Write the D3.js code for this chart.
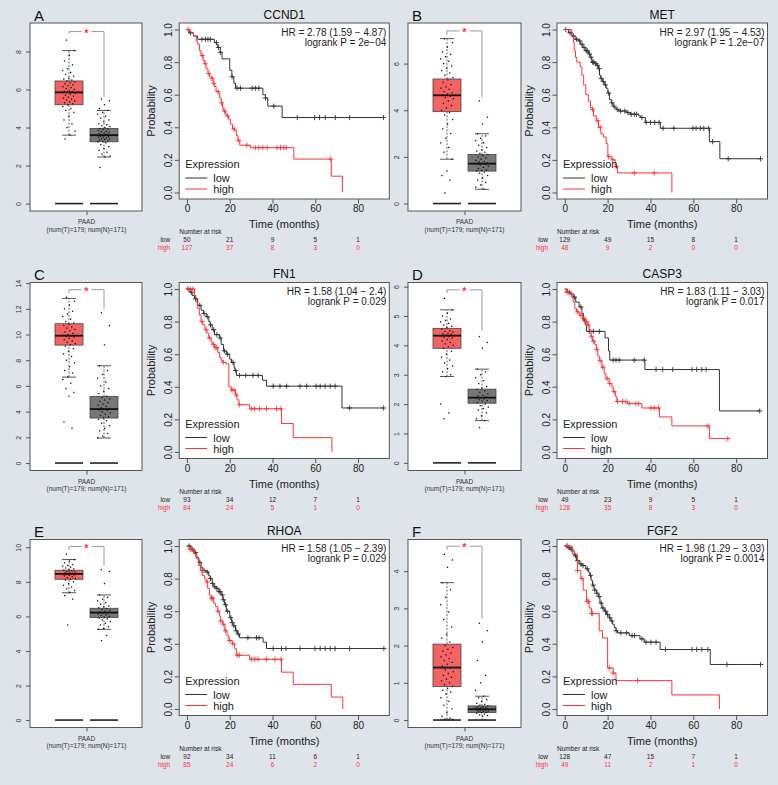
<!DOCTYPE html>
<html><head><meta charset="utf-8">
<script src="https://cdn.jsdelivr.net/npm/d3@7"></script>
<style>
body{margin:0;background:#dee4e9;}
svg{display:block;font-family:"Liberation Sans",Arial,Helvetica,sans-serif;}
</style>
</head><body>
<svg id="c" width="778" height="785"></svg>
<script>
// ---------------- DATA ----------------
const panelLetters = ["A","B","C","D","E","F"];
const genes = ["CCND1","MET","FN1","CASP3","RHOA","FGF2"];
const hrLabels = ["HR = 2.78 (1.59 \u2212 4.87)","HR = 2.97 (1.95 \u2212 4.53)","HR = 1.58 (1.04 \u2212 2.4)","HR = 1.83 (1.11 \u2212 3.03)","HR = 1.58 (1.05 \u2212 2.39)","HR = 1.98 (1.29 \u2212 3.03)"];
const pLabels = ["logrank P = 2e\u221204","logrank P = 1.2e\u221207","logrank P = 0.029","logrank P = 0.017","logrank P = 0.029","logrank P = 0.0014"];
const riskTimes = [0,20,40,60,80];
const riskLow  = [[50,21,9,5,1],[129,49,15,8,1],[93,34,12,7,1],[49,23,9,5,1],[92,34,11,6,1],[128,47,15,7,1]];
const riskHigh = [[127,37,8,3,0],[48,9,2,0,0],[84,24,5,1,0],[128,35,8,3,0],[85,24,6,2,0],[49,11,2,1,0]];
const kmXTicks = [0,20,40,60,80];
const kmYTicks = [0,0.2,0.4,0.6,0.8,1.0];

// Kaplan-Meier steps [time, survival]
const kmLow = [
 [[0,1],[1,0.98],[3,0.96],[5,0.94],[12.8,0.92],[13.8,0.91],[14.4,0.89],[15.6,0.86],[16.4,0.82],[20,0.75],[21,0.71],[21.9,0.67],[22.7,0.64],[35.5,0.6],[36.7,0.58],[37.8,0.53],[44.5,0.46]],
 [[0,1],[1.7,0.98],[3.3,0.96],[4.8,0.94],[6.4,0.93],[7.2,0.91],[8.4,0.89],[9.5,0.87],[11.1,0.85],[11.9,0.83],[12.6,0.8],[14.2,0.79],[15,0.78],[15.8,0.76],[16.2,0.72],[16.8,0.7],[17.5,0.68],[18.4,0.66],[19.3,0.64],[20.1,0.61],[20.9,0.57],[21.7,0.55],[22.5,0.53],[23.1,0.52],[24,0.51],[25.1,0.5],[29,0.49],[30.6,0.48],[34.5,0.47],[35.3,0.46],[37.6,0.43],[44.6,0.394],[67.5,0.312],[72.4,0.207]],
 [[0,1],[1.4,0.98],[2.4,0.96],[3.5,0.94],[5,0.9],[6.6,0.87],[7.7,0.85],[9,0.83],[10.2,0.8],[10.8,0.78],[11.8,0.75],[12.9,0.72],[15.2,0.7],[16,0.66],[17.1,0.62],[18.4,0.6],[20,0.57],[20.8,0.55],[22,0.52],[22.4,0.5],[23.1,0.47],[35.3,0.44],[37.2,0.404],[72.5,0.27]],
 [[0,1],[1.2,0.98],[2.8,0.97],[3.9,0.95],[5.1,0.92],[6.7,0.89],[8,0.85],[8.7,0.81],[9.5,0.78],[10.1,0.74],[18.8,0.7],[20.4,0.62],[21,0.564],[37.4,0.506],[72.2,0.252]],
 [[0,1],[1.9,0.98],[3.3,0.96],[4.2,0.93],[5.5,0.9],[6.6,0.87],[7.4,0.85],[8.9,0.84],[10.1,0.82],[10.8,0.8],[11.8,0.77],[12.5,0.75],[13.6,0.74],[14.9,0.72],[16,0.7],[16.8,0.67],[17.6,0.64],[18.4,0.6],[20,0.56],[20.9,0.53],[21.6,0.51],[22.7,0.48],[23.6,0.46],[24.6,0.437],[35.6,0.41],[37.2,0.371]],
 [[0,1],[1.2,0.99],[2.3,0.98],[3.6,0.97],[4.4,0.94],[5.5,0.91],[6.7,0.89],[7.9,0.88],[9.8,0.86],[11,0.84],[11.7,0.82],[12.3,0.79],[12.9,0.76],[13.7,0.73],[14.8,0.71],[15.8,0.69],[16.4,0.65],[17.3,0.62],[18.4,0.6],[19.5,0.58],[20.7,0.56],[21.5,0.54],[22.3,0.52],[23.1,0.5],[23.9,0.48],[24.6,0.467],[30.1,0.45],[35.1,0.43],[37.1,0.41],[44.5,0.365],[67.9,0.273]]
];
const kmHigh = [
 [[0,1],[1.25,0.99],[1.9,0.98],[3.1,0.96],[4.4,0.93],[5,0.91],[5.8,0.87],[6.6,0.84],[7.5,0.81],[8.3,0.79],[8.9,0.76],[9.8,0.73],[10.6,0.71],[11.4,0.7],[12.2,0.67],[12.8,0.65],[13.6,0.62],[14.8,0.61],[15.3,0.58],[16,0.55],[16.6,0.52],[17.2,0.5],[18,0.48],[18.8,0.47],[19.5,0.45],[20.3,0.42],[21.3,0.39],[22.2,0.38],[23.1,0.35],[23.8,0.32],[24.7,0.29],[29.7,0.275],[50,0.205],[67.5,0.1],[72.7,0]],
 [[0,1],[3.3,0.96],[4,0.92],[4.4,0.87],[5,0.83],[5.6,0.8],[7.2,0.77],[8,0.72],[8.8,0.66],[9.8,0.6],[11,0.56],[12,0.52],[13,0.51],[13.4,0.47],[14.7,0.44],[15.7,0.4],[16.8,0.36],[18,0.34],[19.3,0.3],[20.1,0.22],[22,0.2],[23.5,0.16],[24.6,0.12],[50,0]],
 [[0,1],[3.5,0.96],[4.2,0.92],[5,0.88],[5.8,0.84],[6.6,0.8],[7.4,0.78],[8.4,0.75],[9.3,0.73],[10.2,0.7],[11.3,0.67],[12.1,0.66],[12.9,0.64],[14.4,0.61],[15.2,0.58],[16,0.56],[16.8,0.55],[18.4,0.54],[19.6,0.4],[20.7,0.38],[22.7,0.35],[23.4,0.32],[24.3,0.29],[29.3,0.265],[44.2,0.175],[49.7,0.088],[67.8,0]],
 [[0,1],[0.5,0.98],[2,0.97],[3.3,0.95],[3.9,0.92],[4.7,0.88],[5.5,0.86],[6.7,0.84],[8.3,0.82],[9.5,0.8],[10.6,0.78],[11.4,0.75],[12.2,0.71],[12.9,0.68],[14,0.66],[14.8,0.63],[15.4,0.59],[16.1,0.56],[17.3,0.52],[18.4,0.48],[19.2,0.45],[20.7,0.42],[22,0.4],[22.6,0.37],[23.6,0.34],[24.3,0.31],[29.3,0.297],[36,0.27],[44.2,0.215],[50,0.16],[67.5,0.082]],
 [[0,1],[1.1,0.98],[2.4,0.97],[3.5,0.95],[4.6,0.92],[5.5,0.88],[6.3,0.85],[7.1,0.82],[8.2,0.8],[8.9,0.78],[9.7,0.74],[10.5,0.7],[11.3,0.68],[12.5,0.65],[13.3,0.63],[14.4,0.6],[15.2,0.57],[15.7,0.54],[16.8,0.52],[17.7,0.48],[18.7,0.45],[19.6,0.42],[21.2,0.4],[22.3,0.37],[23.1,0.33],[29.3,0.305],[44.2,0.226],[49.7,0.151],[67.5,0.073],[72.9,0]],
 [[0,1],[3.5,0.95],[5.9,0.85],[7.5,0.8],[8.6,0.73],[10.1,0.66],[11.4,0.62],[12.5,0.586],[16.1,0.48],[17.6,0.436],[20,0.252],[22.6,0.22],[23.9,0.174],[50,0.086],[72.2,0]]
];
const endLow  = [91.9, 91.4, 92, 91, 92.1, 91.4];
const endHigh = [72.7, 50, 67.8, 76.1, 72.9, 72.2];
const censorLow = [
 [1.6,7,8.6,9.8,10.9,13.75,14.8,15.6,21.1,23.4,25,30.5,32,33.6,36.7,40.6,51.6,59.7,62,64.7,69.4,76.1,91.9],
 [0.5,2.5,4,5.5,7,8,9,10,10.5,11.5,12.2,13,13.5,14.5,15.2,16,17,18,19,20.5,22,23,24.5,26,28,29.5,31,32.5,33.5,36,38,40,42,44,45.9,50.9,59.8,61.3,63.3,64.9,67.2,69,76.3,91.4],
 [0.5,2,4,6,8,9.5,11,12.5,14,15.5,17.5,19,21.5,22.8,24.6,27.5,30.9,33.3,40.3,43.5,46.6,52.9,56,60.4,62.3,64.6,67,69.3,76,92],
 [2,4.5,7.5,9,11.4,13.3,16.1,22.6,23.9,25.4,32.4,37.1,42.6,45.7,50.4,59.4,61.6,64,66,91],
 [1,2.5,4,6,8,9.5,11,12,13,14,15,15.5,16.5,17,18,19,20.5,21.2,22,23,24,28.5,32.5,33.7,40.3,44.2,46.3,52.9,59.9,62.3,64.6,67,69.3,76.1,92.1],
 [1,2,3,5,6,7.5,8.5,10.5,12,13.2,14,15,16,17,17.8,19,20,21,22,24,26.2,28.9,31.4,32.5,36,37.9,40.2,42.6,47,59.4,61.6,64,66.8,75.7,91.4]
];
const censorHigh = [
 [0.5,7.2,8.5,10.2,11.8,12.6,14.5,16.2,17.5,19,22,24.2,28,32,33.6,35.5,37.5,42.2,43.75,45.3,46.4,67.2],
 [13,15.5,16.5,20.5,22.5,24,32.4,41.8],
 [1.5,2.7,7,9,10.5,12.5,13.5,14,17,21,22,23,24.5,30.1,31.7,34,37.2,41.9,44],
 [1,3,6,7.5,9,10,11,12.5,13.5,15,16.5,17.8,19.8,21,23,24.6,27,28.5,30.1,33.2,34.5,40.2,41.8,43.8,66.8,76.1],
 [1.5,3,7,9.5,11.5,12,14.5,15.8,17,18,20,21.5,23.5,24.5,30.1,31.7,33.2,37.2,41.1,44],
 [1,5.9,8,10.5,11,12.5,13,20.8,22.6,34]
];

// Box plots: [lower whisker, Q1, median, Q3, upper whisker]
const boxTumor  = [[3.6,5.2,5.85,6.45,8.05],[1.9,3.94,4.64,5.34,7.07],[6.69,9.18,9.91,10.84,12.81],[2.94,3.9,4.33,4.58,5.21],[7.37,8.15,8.46,8.67,9.29],[0.02,0.9,1.41,2.04,3.69]];
const boxNormal = [[2.45,3.25,3.6,3.95,4.9],[0.61,1.39,1.71,2.1,2.99],[1.95,3.5,4.2,5.19,7.57],[1.44,2.03,2.22,2.51,3.19],[5.25,5.93,6.22,6.47,7.24],[0,0.2,0.29,0.38,0.64]];
const boxYDomain = [[-0.39,9.5],[-0.32,7.74],[-0.58,14.05],[-0.26,6.14],[-0.43,10.45],[-0.2,4.85]];
const boxYTicks = [[0,2,4,6,8],[0,2,4,6],[0,2,4,6,8,10,12,14],[0,1,2,3,4,5,6],[0,2,4,6,8,10],[0,1,2,3,4]];
// significance bracket: [bar level, left end, right end]
const bracket = [[9.05,8.93,5.6],[7.4,7.24,4.54],[13.49,13.23,12.0],[5.89,5.78,4.5],[10.04,9.85,8.94],[4.67,4.58,2.72]];
const boxCategory = "PAAD";
const boxCaption = "(num(T)=179; num(N)=171)";

// Individual sample expression values (representative)
const ptsTumor = [
 [8.6,8.05,7.8,7.5,7.3,7.1,7.0,6.9,6.8,6.7,6.6,6.55,6.5,6.45,6.4,6.35,6.3,6.25,6.2,6.15,6.1,6.05,6.0,5.95,5.9,5.88,5.85,5.8,5.75,5.7,5.65,5.6,5.55,5.5,5.45,5.4,5.35,5.3,5.25,5.2,5.1,5.0,4.9,4.8,4.6,4.4,4.2,4.0,3.8,3.6,3.4],
 [7.07,6.9,6.7,6.5,6.4,6.3,6.2,6.1,6.0,5.9,5.8,5.7,5.6,5.5,5.4,5.3,5.2,5.1,5.0,4.95,4.9,4.8,4.75,4.7,4.65,4.6,4.55,4.5,4.4,4.3,4.2,4.1,4.0,3.9,3.8,3.6,3.4,3.2,3.0,2.8,2.6,2.4,2.2,1.9,1.4,1.2,1.0,0.45],
 [12.9,12.6,12.3,12.0,11.8,11.6,11.4,11.2,11.0,10.9,10.8,10.7,10.6,10.5,10.4,10.3,10.2,10.1,10.0,9.95,9.9,9.85,9.8,9.7,9.6,9.5,9.4,9.3,9.2,9.1,8.9,8.7,8.5,8.3,8.0,7.8,7.5,7.2,7.0,6.7,6.5,6.2,5.8,5.5,5.2,3.2,2.7],
 [5.6,5.21,5.1,5.0,4.9,4.85,4.8,4.75,4.7,4.65,4.6,4.55,4.5,4.48,4.45,4.42,4.4,4.38,4.35,4.33,4.3,4.28,4.25,4.2,4.15,4.1,4.05,4.0,3.95,3.9,3.8,3.7,3.6,3.5,3.4,3.3,3.2,3.1,3.0,2.94,2.0,1.7,1.5],
 [9.6,9.29,9.2,9.1,9.0,8.95,8.9,8.85,8.8,8.75,8.7,8.67,8.65,8.6,8.58,8.55,8.52,8.5,8.48,8.46,8.44,8.42,8.4,8.38,8.35,8.3,8.25,8.2,8.15,8.1,8.0,7.9,7.8,7.7,7.6,7.5,7.37,7.2,7.0,5.5],
 [4.45,4.3,4.1,3.69,3.5,3.3,3.1,2.9,2.7,2.5,2.3,2.2,2.1,2.0,1.95,1.9,1.85,1.8,1.75,1.7,1.65,1.6,1.55,1.5,1.45,1.4,1.35,1.3,1.25,1.2,1.15,1.1,1.05,1.0,0.95,0.9,0.85,0.8,0.75,0.7,0.6,0.5,0.4,0.3,0.2,0.1,0.05,0.02,0.01,0.0]
];
const ptsNormal = [
 [5.5,5.4,5.2,5.0,4.9,4.8,4.7,4.6,4.5,4.4,4.3,4.2,4.15,4.1,4.05,4.0,3.95,3.92,3.9,3.85,3.8,3.78,3.75,3.7,3.68,3.65,3.62,3.6,3.58,3.55,3.52,3.5,3.48,3.45,3.42,3.4,3.38,3.35,3.3,3.28,3.25,3.2,3.1,3.0,2.9,2.8,2.7,2.6,2.5,2.45,1.9],
 [4.4,3.7,3.4,2.99,2.9,2.8,2.7,2.6,2.5,2.4,2.3,2.25,2.2,2.15,2.1,2.05,2.0,1.95,1.9,1.85,1.8,1.78,1.75,1.72,1.7,1.68,1.65,1.6,1.55,1.5,1.45,1.42,1.4,1.35,1.3,1.2,1.1,1.0,0.9,0.8,0.7,0.61],
 [11.7,10.7,9.2,7.57,7.2,6.9,6.6,6.3,6.0,5.8,5.6,5.4,5.2,5.1,5.0,4.9,4.8,4.7,4.6,4.5,4.4,4.3,4.25,4.2,4.15,4.1,4.0,3.9,3.8,3.7,3.6,3.5,3.4,3.3,3.1,2.9,2.7,2.5,2.3,2.1,1.95],
 [4.3,4.1,3.9,3.19,3.1,3.0,2.9,2.8,2.7,2.6,2.55,2.5,2.45,2.4,2.35,2.3,2.28,2.25,2.22,2.2,2.18,2.15,2.12,2.1,2.05,2.0,1.95,1.9,1.85,1.8,1.7,1.6,1.5,1.44,1.2],
 [8.7,8.6,7.9,7.24,7.1,7.0,6.9,6.8,6.7,6.6,6.55,6.5,6.45,6.4,6.35,6.3,6.25,6.22,6.2,6.15,6.1,6.05,6.0,5.95,5.9,5.85,5.8,5.7,5.6,5.5,5.4,5.3,5.25,4.9,4.6],
 [2.6,2.4,2.1,1.6,1.2,1.0,0.8,0.64,0.6,0.55,0.5,0.45,0.42,0.4,0.38,0.36,0.35,0.34,0.33,0.32,0.31,0.3,0.29,0.28,0.27,0.26,0.25,0.24,0.23,0.22,0.21,0.2,0.18,0.16,0.14,0.12,0.1]
];

// ---------------- LAYOUT / STYLE ----------------
const FONT = "'Liberation Sans', Arial, Helvetica, sans-serif";
const RED = "#ff3333", DARK = "#333333", FRAME = "#555555";
const rowTop = [23, 282.5, 539.5];
const boxLeft = [30, 408], boxWidth = [112, 113];
const kmLeft = [179.2, 557], kmRight = [389.3, 767.5];
const svg = d3.select("#c");
svg.append("rect").attr("width",778).attr("height",785).attr("fill","#dee4e9");

function txt(g, x, y, s, size, opts={}) {
  const t = g.append("text").attr("x", x).attr("y", y).text(s)
    .attr("font-size", size).attr("font-family", FONT)
    .attr("fill", opts.fill || "#222")
    .attr("text-anchor", opts.anchor || "start");
  if (opts.rotate) t.attr("transform", `rotate(-90,${x},${y})`);
  return t;
}

function drawBox(p, L, W, T) {
  const g = svg.append("g");
  const H = 188;
  const y = d3.scaleLinear().domain(boxYDomain[p]).range([T + H, T]);
  const x = d3.scaleLinear().domain([1, 2]).range([L + 39, L + 74]);
  const hw = 14;
  g.append("rect").attr("x", L).attr("y", T).attr("width", W).attr("height", H).attr("fill", "#fff");
  [1, 2].forEach(k => g.append("line").attr("x1", x(k) - hw).attr("x2", x(k) + hw)
    .attr("y1", y(0)).attr("y2", y(0)).attr("stroke", "#222").attr("stroke-width", 1.6));
  const stats = [boxTumor[p], boxNormal[p]];
  const fills = ["#f46262", "#777777"];
  stats.forEach((s, k) => {
    const cx = x(k + 1);
    [[s[0], s[1]], [s[3], s[4]]].forEach(([a, b]) => g.append("line")
      .attr("x1", cx).attr("x2", cx).attr("y1", y(a)).attr("y2", y(b))
      .attr("stroke", "#444").attr("stroke-dasharray", "2,1.5").attr("stroke-width", 0.8));
    [s[0], s[4]].forEach(v => g.append("line").attr("x1", cx - 7).attr("x2", cx + 7)
      .attr("y1", y(v)).attr("y2", y(v)).attr("stroke", "#444").attr("stroke-width", 0.9));
    g.append("rect").attr("x", cx - hw).attr("width", 2 * hw)
      .attr("y", y(s[3])).attr("height", y(s[1]) - y(s[3]))
      .attr("fill", fills[k]).attr("stroke", "#444").attr("stroke-width", 0.8);
    g.append("line").attr("x1", cx - hw).attr("x2", cx + hw).attr("y1", y(s[2])).attr("y2", y(s[2]))
      .attr("stroke", "#111").attr("stroke-width", 1.8);
  });
  [ptsTumor[p], ptsNormal[p]].forEach((arr, k) => {
    g.selectAll(null).data(arr).enter().append("rect")
      .attr("x", (d, i) => x(k + 1) + (((i * 0.618034 + 0.3) % 1) - 0.5) * 13 - 0.65)
      .attr("y", d => y(d) - 0.65).attr("width", 1.3).attr("height", 1.3).attr("fill", "#111");
  });
  g.append("rect").attr("x", L).attr("y", T).attr("width", W).attr("height", H)
    .attr("fill", "none").attr("stroke", FRAME).attr("stroke-width", 1);
  // bracket
  const [bl, lEnd, rEnd] = bracket[p];
  const mid = x(1.5), by = y(bl);
  const bg = g.append("g").attr("stroke", "#9a9a9a").attr("stroke-width", 1).attr("fill", "none");
  bg.append("path").attr("d", `M${x(1)},${y(lEnd)}V${by}H${mid - 5}`);
  bg.append("path").attr("d", `M${mid + 5},${by}H${x(2)}V${y(rEnd)}`);
  txt(g, mid, by + 5, "*", 11, {fill: RED, anchor: "middle"}).attr("font-weight", "bold");
  // axes
  const ax = g.append("g").attr("transform", `translate(${L},0)`)
    .call(d3.axisLeft(y).tickValues(boxYTicks[p]).tickSize(4).tickFormat(d3.format("d")));
  ax.select(".domain").remove();
  ax.selectAll("line").attr("stroke", FRAME);
  ax.selectAll("text").attr("x", null).attr("dy", null).attr("text-anchor", "middle")
    .attr("transform", "translate(-9.5,0) rotate(-90)").attr("font-size", 7)
    .attr("font-family", FONT).attr("fill", "#333");
  const axb = g.append("g").attr("transform", `translate(0,${T + H})`)
    .call(d3.axisBottom(d3.scalePoint().domain([boxCategory]).range([mid, mid])).tickSize(4).tickFormat(""));
  axb.select(".domain").remove();
  axb.selectAll("line").attr("stroke", FRAME);
  txt(g, mid, T + 201, boxCategory, 6.5, {anchor: "middle", fill: "#333"});
  txt(g, mid, T + 208.5, boxCaption, 6.5, {anchor: "middle", fill: "#333"});
  txt(g, L + 4, T - 2.5, panelLetters[p], 15, {fill: "#111"});
}

function survAt(steps, t) {
  let s = steps[0][1];
  for (const st of steps) { if (st[0] <= t) s = st[1]; else break; }
  return s;
}

function drawKM(p, L, R, T) {
  const g = svg.append("g");
  const H = 176;
  const x = d3.scaleLinear().domain([-3.64, 94.64]).range([L, R]);
  const y = d3.scaleLinear().domain([-0.04, 1.04]).range([T + H, T]);
  g.append("rect").attr("x", L).attr("y", T).attr("width", R - L).attr("height", H).attr("fill", "#fff");
  const line = d3.line().x(d => x(d[0])).y(d => y(d[1])).curve(d3.curveStepAfter);
  [[kmLow[p], endLow[p], censorLow[p], DARK], [kmHigh[p], endHigh[p], censorHigh[p], RED]].forEach(([steps, end, cens, col]) => {
    const data = steps.concat([[end, steps[steps.length - 1][1]]]);
    g.append("path").attr("d", line(data)).attr("fill", "none").attr("stroke", col).attr("stroke-width", 1);
    g.selectAll(null).data(cens).enter().append("path")
      .attr("d", d => `M${x(d) - 2.6},${y(survAt(steps, d))}h5.2M${x(d)},${y(survAt(steps, d)) - 2.6}v5.2`)
      .attr("stroke", col).attr("stroke-width", 0.9).attr("fill", "none");
  });
  g.append("rect").attr("x", L).attr("y", T).attr("width", R - L).attr("height", H)
    .attr("fill", "none").attr("stroke", FRAME).attr("stroke-width", 1);
  const ay = g.append("g").attr("transform", `translate(${L},0)`)
    .call(d3.axisLeft(y).tickValues(kmYTicks).tickSize(4.5).tickFormat(d3.format(".1f")));
  ay.select(".domain").remove();
  ay.selectAll("line").attr("stroke", FRAME);
  ay.selectAll("text").attr("x", null).attr("dy", null).attr("text-anchor", "middle")
    .attr("transform", "translate(-7.5,0) rotate(-90)").attr("font-size", 10)
    .attr("font-family", FONT).attr("fill", "#222");
  const axx = g.append("g").attr("transform", `translate(0,${T + H})`)
    .call(d3.axisBottom(x).tickValues(kmXTicks).tickSize(4.5));
  axx.select(".domain").remove();
  axx.selectAll("line").attr("stroke", FRAME);
  axx.selectAll("text").attr("y", 13).attr("dy", null).attr("font-size", 10)
    .attr("font-family", FONT).attr("fill", "#222");
  const cx = (L + R) / 2;
  txt(g, cx, T - 4.5, genes[p], 12, {anchor: "middle", fill: "#111"});
  txt(g, R - 3, T + 12.7, hrLabels[p], 10, {anchor: "end"});
  txt(g, R - 3, T + 22.7, pLabels[p], 10, {anchor: "end"});
  txt(g, cx, T + 205, "Time (months)", 11, {anchor: "middle"});
  txt(g, L - 24, T + H / 2, "Probability", 11, {anchor: "middle", rotate: true});
  // legend
  txt(g, L + 6, T + 145, "Expression", 11);
  [[DARK, "low", 155, 159], [RED, "high", 166, 170]].forEach(([c, lab, ly, ty]) => {
    g.append("line").attr("x1", L + 6).attr("x2", L + 28).attr("y1", T + ly).attr("y2", T + ly)
      .attr("stroke", c).attr("stroke-width", 1);
    txt(g, L + 34, T + ty, lab, 11);
  });
  // number at risk
  txt(g, L, T + 211, "Number at risk", 6.5);
  txt(g, L - 9, T + 219, "low", 6.5, {anchor: "end"});
  txt(g, L - 9, T + 227, "high", 6.5, {anchor: "end", fill: RED});
  riskTimes.forEach((t, i) => {
    txt(g, x(t), T + 219, riskLow[p][i], 6.5, {anchor: "middle"});
    txt(g, x(t), T + 227, riskHigh[p][i], 6.5, {anchor: "middle", fill: RED});
  });
}

genes.forEach((gname, p) => {
  const col = p % 2, row = Math.floor(p / 2), T = rowTop[row];
  drawBox(p, boxLeft[col], boxWidth[col], T);
  drawKM(p, kmLeft[col], kmRight[col], T);
});
</script>
</body></html>
